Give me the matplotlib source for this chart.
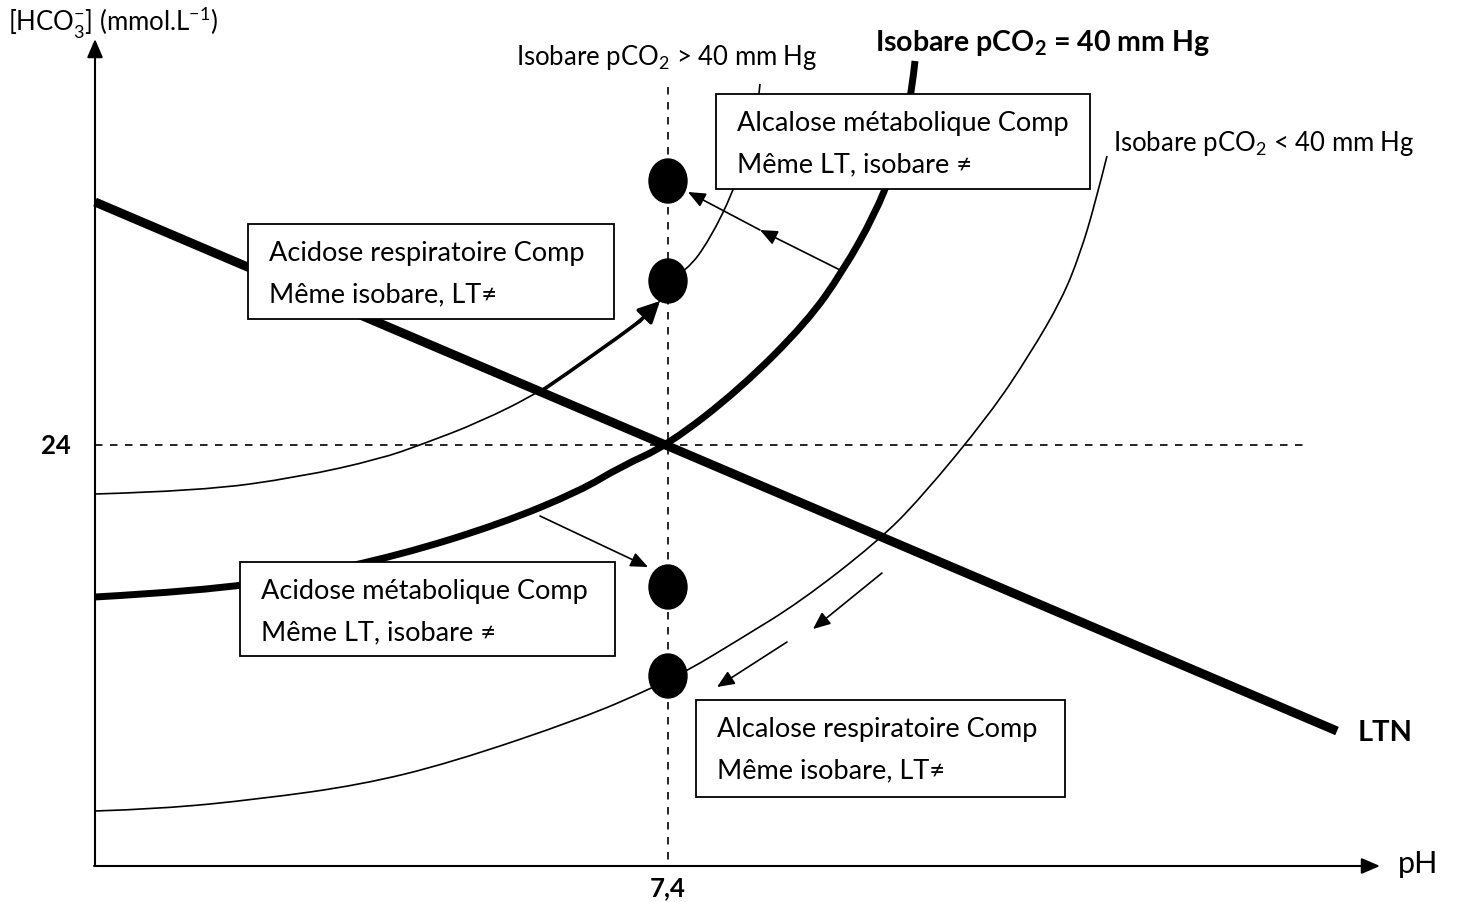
import matplotlib.pyplot as plt
from matplotlib.patches import Ellipse, Rectangle, PathPatch
from matplotlib.path import Path

plt.rcParams['font.family'] = ['Lato', 'DejaVu Sans']
plt.rcParams['mathtext.fontset'] = 'custom'
plt.rcParams['mathtext.rm'] = 'Lato'
plt.rcParams['mathtext.bf'] = 'Lato:bold'

# schematic (picture) units, y grows downwards
x0, y0 = 95, 867          # origin of the axes
ph_ref, hco3_ref = 668, 446   # pH 7,4 / 24 mmol/L

ltn_x = [95, 1337]
ltn_y = [203, 732]

iso40_x = [95, 200, 300, 400, 500, 580, 620, 668, 740, 807, 843, 875, 893, 905, 912, 915]
iso40_y = [598, 592, 578, 556, 525, 492, 468, 446, 390, 323, 272, 215, 170, 125, 90, 62]

hi_x = [95, 200, 300, 380, 423, 480, 540, 600, 640, 660]
hi_y = [495, 492, 478, 460, 445, 423, 393, 352, 322, 302]
hi_top_x = [668, 687, 710, 733, 748, 759, 760]
hi_top_y = [282, 272, 240, 193, 150, 98, 85]

lo_x = [95, 160, 260, 360, 450, 583, 650, 687, 740, 800, 877, 920, 990, 1030, 1062, 1080, 1095, 1107]
lo_y = [812, 810, 800, 786, 764, 719, 690, 672, 640, 603, 543, 500, 415, 355, 300, 255, 205, 157]

dots_y = [182, 282, 588, 677]

# boxes: (left, top, right, bottom), text lines
boxes = [
    ((716, 95, 1090, 190), ["Alcalose métabolique Comp", "Même LT, isobare ≠"]),
    ((248, 225, 614, 320), ["Acidose respiratoire Comp", "Même isobare, LT≠"]),
    ((240, 563, 615, 657), ["Acidose métabolique Comp", "Même LT, isobare ≠"]),
    ((696, 701, 1065, 798), ["Alcalose respiratoire Comp", "Même isobare, LT≠"]),
]

# small arrows: (start, end)
arrows = [
    ((842, 272), (760, 231)),
    ((760, 231), (688, 193)),
    ((540, 517), (648, 568)),
    ((882, 574), (813, 630)),
    ((787, 643), (717, 688)),
]


def smooth(ax, xs, ys, **kw):
    # quadratic spline through the midpoints of the read points
    pts = list(zip(xs, ys))
    verts = [pts[0]]
    codes = [Path.MOVETO]
    for i in range(1, len(pts) - 1):
        nxt = pts[i + 1] if i == len(pts) - 2 else (
            (pts[i][0] + pts[i + 1][0]) / 2, (pts[i][1] + pts[i + 1][1]) / 2)
        verts += [pts[i], nxt]
        codes += [Path.CURVE3, Path.CURVE3]
    if len(pts) == 2:
        verts.append(pts[1])
        codes.append(Path.LINETO)
    ax.add_patch(PathPatch(Path(verts, codes), facecolor='none',
                           edgecolor='black', capstyle='butt', **kw))


fig = plt.figure(figsize=(14.6, 9.03), dpi=100)
ax = fig.add_axes([0, 0, 1, 1])
ax.set_xlim(0, 1460)
ax.set_ylim(903, 0)
ax.axis('off')

head = '-|>,head_length=0.7,head_width=0.3'

# axes with arrows
ax.annotate('', xy=(x0, 40), xytext=(x0, y0),
            arrowprops=dict(arrowstyle=head, color='black', lw=1.5,
                            mutation_scale=16, shrinkA=0, shrinkB=0))
ax.annotate('', xy=(1380, y0), xytext=(x0 - 1, y0),
            arrowprops=dict(arrowstyle=head, color='black', lw=1.5,
                            mutation_scale=16, shrinkA=0, shrinkB=0))

# reference dashed lines
ax.plot([ph_ref, ph_ref], [88, y0], color='black', lw=1.2, ls=(0, (4.5, 4.5)))
ax.plot([x0, 1305], [hco3_ref, hco3_ref], color='black', lw=1.2, ls=(0, (4.5, 4.5)))

# curves
ax.plot(ltn_x, ltn_y, color='black', lw=6.5, solid_capstyle='butt', zorder=2)
smooth(ax, iso40_x, iso40_y, lw=5, zorder=2)
smooth(ax, hi_x, hi_y, lw=1.2, zorder=2)
smooth(ax, hi_x[6:-1], hi_y[6:-1], lw=2.6, zorder=2)
ax.annotate('', xy=(hi_x[-1], hi_y[-1]), xytext=(hi_x[-2], hi_y[-2]),
            arrowprops=dict(arrowstyle='-|>,head_length=0.8,head_width=0.4',
                            color='black', lw=2.6, mutation_scale=16,
                            shrinkA=0, shrinkB=0), zorder=2)
smooth(ax, hi_top_x, hi_top_y, lw=1.2, zorder=2)
smooth(ax, lo_x, lo_y, lw=1.2, zorder=2)

for (a, b) in arrows:
    ax.annotate('', xy=b, xytext=a,
                arrowprops=dict(arrowstyle=head, color='black', lw=1.2,
                                mutation_scale=15, shrinkA=0, shrinkB=0), zorder=4)

for y in dots_y:
    ax.add_patch(Ellipse((ph_ref, y), 38, 44, color='black', zorder=5))

for (l, t, r, b), lines in boxes:
    ax.add_patch(Rectangle((l, t), r - l, b - t, facecolor='white',
                           edgecolor='black', lw=1.3, zorder=3))
    ax.text(l + 21, t + 29, lines[0], fontsize=19.5, va='center', ha='left', zorder=4)
    ax.text(l + 21, t + 70, lines[1], fontsize=19.5, va='center', ha='left', zorder=4)

# labels
ax.text(8, 22, r'[HCO$_3^{\mathregular{-}}$] (mmol.L$^{\mathregular{-1}}$)', fontsize=18.5,
        va='center', ha='left')
ax.text(1398, 864, 'pH', fontsize=22, va='center', ha='left')
ax.text(ph_ref, 888, '7,4', fontsize=18.5, fontweight='bold', va='center', ha='center')
ax.text(71, hco3_ref, '24', fontsize=18.5, fontweight='bold', va='center', ha='right')
ax.text(1358, 733, 'LTN', fontsize=21, fontweight='bold', va='center', ha='left')
ax.text(516, 58, r'Isobare pCO$_2$ > 40 mm Hg', fontsize=18.5, va='center', ha='left')
ax.text(875, 43, r'Isobare pCO$_\mathbf{2}$ = 40 mm Hg', fontsize=20.5, fontweight='bold',
        va='center', ha='left')
ax.text(1113, 143, r'Isobare pCO$_2$ < 40 mm Hg', fontsize=18.5, va='center', ha='left')

fig.savefig('out.png', dpi=100)
